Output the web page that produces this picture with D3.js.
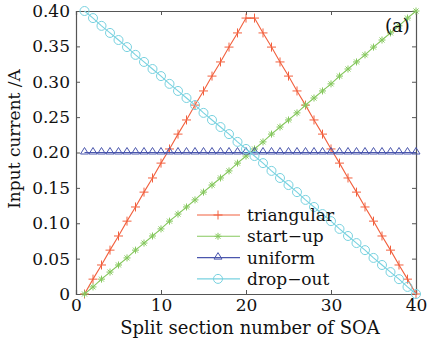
<!DOCTYPE html>
<html>
<head>
<meta charset="utf-8">
<script src="https://cdn.jsdelivr.net/npm/d3@7"></script>
<style>
  body { margin: 0; background: #fff; }
  text { font-family: "DejaVu Serif", serif; fill: #111; }
</style>
</head>
<body>
<div id="chart"></div>
<script>
// section numbers 1..40
const sections = [1,2,3,4,5,6,7,8,9,10,11,12,13,14,15,16,17,18,19,20,
  21,22,23,24,25,26,27,28,29,30,31,32,33,34,35,36,37,38,39,40];

// input current (A) per section
const triangular = [0,0.021,0.041,0.062,0.082,0.103,0.123,0.144,0.164,0.185,
  0.205,0.226,0.246,0.267,0.287,0.308,0.328,0.349,0.369,0.39,
  0.39,0.369,0.349,0.328,0.308,0.287,0.267,0.246,0.226,0.205,
  0.185,0.164,0.144,0.123,0.103,0.082,0.062,0.041,0.021,0];
const startUp = [0,0.010,0.021,0.031,0.041,0.051,0.062,0.072,0.082,0.092,
  0.103,0.113,0.123,0.133,0.144,0.154,0.164,0.174,0.185,0.195,
  0.205,0.215,0.226,0.236,0.246,0.256,0.267,0.277,0.287,0.297,
  0.308,0.318,0.328,0.338,0.349,0.359,0.369,0.379,0.390,0.400];
const uniform = [0.2,0.2,0.2,0.2,0.2,0.2,0.2,0.2,0.2,0.2,
  0.2,0.2,0.2,0.2,0.2,0.2,0.2,0.2,0.2,0.2,
  0.2,0.2,0.2,0.2,0.2,0.2,0.2,0.2,0.2,0.2,
  0.2,0.2,0.2,0.2,0.2,0.2,0.2,0.2,0.2,0.2];
const dropOut = [0.400,0.390,0.379,0.369,0.359,0.349,0.338,0.328,0.318,0.308,
  0.297,0.287,0.277,0.267,0.256,0.246,0.236,0.226,0.215,0.205,
  0.195,0.185,0.174,0.164,0.154,0.144,0.133,0.123,0.113,0.103,
  0.092,0.082,0.072,0.062,0.051,0.041,0.031,0.021,0.010,0];

const xTicks = [0,10,20,30,40];
const yTicks = [0,0.05,0.10,0.15,0.20,0.25,0.30,0.35,0.40];

const seriesNames = ["triangular", "start\u2212up", "uniform", "drop\u2212out"];
const seriesData = [triangular, startUp, uniform, dropOut];
const colors = ["#f2603e", "#86c85e", "#4a56ad", "#78d2e0"];
const markers = ["plus", "star", "tri", "circle"];

let width = 428, height = 343;
let margin = {top: 11, right: 12, bottom: 49, left: 76};

let svg = d3.select("#chart")
  .append("svg")
  .attr("width", width)
  .attr("height", height);

let x = d3.scaleLinear().domain([0, 40]).range([margin.left, width - margin.right]);
let y = d3.scaleLinear().domain([0, 0.4]).range([height - margin.bottom, margin.top]);

// marker shapes
function markerPath(type) {
  if (type === "plus") return "M-4.5,0H4.5M0,-4.5V4.5";
  if (type === "star") return "M-3.5,0H3.5M0,-3.5V3.5M-2.5,-2.5L2.5,2.5M-2.5,2.5L2.5,-2.5";
  if (type === "tri") return "M0,-3.5L4,3L-4,3Z";
  return d3.arc()({innerRadius: 0, outerRadius: 4.5, startAngle: 0, endAngle: 2 * Math.PI});
}

// axes box
let axisColor = "#555";
let fmt = d => d === 0 ? "0" : d3.format(".2f")(d);

let gx = svg.append("g")
  .attr("transform", "translate(0," + y(0) + ")")
  .call(d3.axisBottom(x).tickValues(xTicks).tickSize(-4).tickPadding(8).tickFormat(d3.format("d")));
let gxt = svg.append("g")
  .attr("transform", "translate(0," + y(0.4) + ")")
  .call(d3.axisTop(x).tickValues(xTicks).tickSize(-4).tickFormat(""));
let gy = svg.append("g")
  .attr("transform", "translate(" + x(0) + ",0)")
  .call(d3.axisLeft(y).tickValues(yTicks).tickSize(-4).tickPadding(6).tickFormat(fmt));
let gyr = svg.append("g")
  .attr("transform", "translate(" + x(40) + ",0)")
  .call(d3.axisRight(y).tickValues(yTicks).tickSize(-4).tickFormat(""));

[gx, gxt, gy, gyr].forEach(g => {
  g.select(".domain").attr("stroke", axisColor).attr("stroke-width", 1.2);
  g.selectAll(".tick line").attr("stroke", axisColor);
  g.selectAll("text").style("font-family", "DejaVu Serif, serif").style("font-size", "17px").attr("fill", "#111");
});
gx.selectAll(".tick text").attr("dy", "0.55em");

// lines + markers
let line = d3.line().x((d, i) => x(sections[i])).y(d => y(d));

seriesData.forEach((vals, k) => {
  svg.append("path")
    .datum(vals)
    .attr("fill", "none")
    .attr("stroke", colors[k])
    .attr("stroke-width", 1.1)
    .attr("d", line);
  svg.append("g").selectAll("path")
    .data(vals)
    .enter()
    .append("path")
    .attr("transform", (d, i) => "translate(" + x(sections[i]) + "," + (y(d) - (markers[k] === "tri" ? 1.5 : 0)) + ")")
    .attr("d", markerPath(markers[k]))
    .attr("fill", "none")
    .attr("stroke", colors[k])
    .attr("stroke-width", 1);
});

// legend
let legend = svg.append("g");
seriesNames.forEach((name, k) => {
  let ly = 215 + k * 21.3;
  legend.append("line")
    .attr("x1", 197).attr("x2", 240)
    .attr("y1", ly).attr("y2", ly)
    .attr("stroke", colors[k]).attr("stroke-width", 1.1);
  legend.append("path")
    .attr("transform", "translate(218," + (ly - (markers[k] === "tri" ? 1.5 : 0)) + ")")
    .attr("d", markerPath(markers[k]))
    .attr("fill", "none")
    .attr("stroke", colors[k]);
  legend.append("text")
    .attr("x", 247).attr("y", ly + 6)
    .style("font-size", "17px")
    .text(name);
});

// panel tag
svg.append("text")
  .attr("x", 385).attr("y", 32)
  .style("font-size", "18px")
  .text("(a)");

// axis titles
svg.append("text")
  .attr("x", (x(0) + x(40)) / 2 + 4)
  .attr("y", 334)
  .attr("text-anchor", "middle")
  .style("font-size", "18px")
  .text("Split section number of SOA");

svg.append("text")
  .attr("transform", "translate(20,139) rotate(-90)")
  .attr("text-anchor", "middle")
  .style("font-size", "17px")
  .text("Input current /A");
</script>
</body>
</html>
